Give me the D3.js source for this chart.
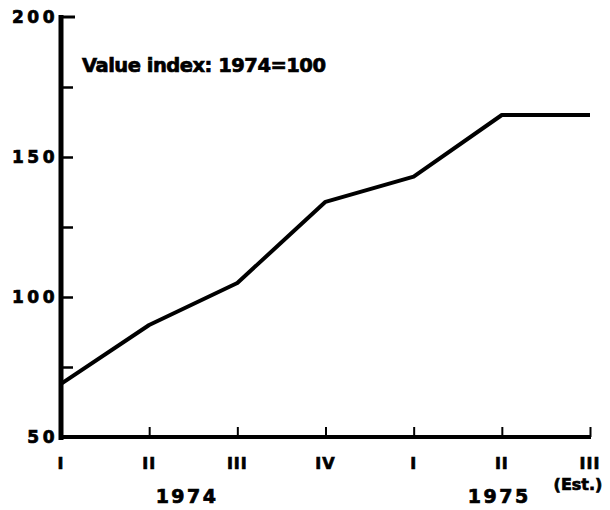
<!DOCTYPE html>
<html><head><meta charset="utf-8">
<script src="https://cdn.jsdelivr.net/npm/d3@7"></script>
<style>
html,body{margin:0;padding:0;background:#fff;}
svg text{font-family:"DejaVu Sans",sans-serif;font-weight:bold;fill:#000;stroke:#000;stroke-width:0.7px;}
</style></head>
<body><svg id="c" width="610" height="510"></svg>
<script>
const quarters = ["I","II","III","IV","I","II","III"];
const values = [69, 90, 105, 134, 143, 165, 165];
const yTicks = [50, 100, 150, 200];
const yMinorTicks = [75, 125, 175];
const years = [{label:"1974", at:1.43}, {label:"1975", at:4.97}];
const title = "Value index: 1974=100";
const estLabel = "(Est.)";

const svg = d3.select("#c");
const idx = d3.range(quarters.length);
const x = d3.scaleLinear().domain([0, quarters.length-1]).range([61, 590]);
const y = d3.scaleLinear().domain([50, 200]).range([437, 17]);

// Y axis: line and inward ticks
const yAxis = d3.axisRight(y).tickValues(yTicks.concat(yMinorTicks).filter(v=>v>50 && v<200))
  .tickSize(12).tickFormat("");
const gy = svg.append("g").attr("transform", `translate(${x(0)},0)`).call(yAxis);
gy.select(".domain").remove();
gy.selectAll(".tick line").attr("stroke","#000").attr("stroke-width",2.5);
svg.append("line").attr("x1", x(0)).attr("x2", x(0)).attr("y1", y(200)-2).attr("y2", y(50)+3)
  .attr("stroke","#000").attr("stroke-width",5);
svg.append("line").attr("x1", x(0)-2).attr("x2", x(0)+14).attr("y1", y(200)).attr("y2", y(200))
  .attr("stroke","#000").attr("stroke-width",3);

// Y tick labels
svg.append("g").selectAll("text").data(yTicks).join("text")
  .attr("x", 58).attr("y", d=>y(d)).attr("dy","0.36em").attr("text-anchor","end")
  .attr("font-size",17).attr("letter-spacing",3.5).text(d=>d);

// X axis: line and upward ticks
const xAxis = d3.axisTop(x).tickValues(idx.slice(1)).tickSize(10).tickFormat("");
const gx = svg.append("g").attr("transform", `translate(0,${y(50)})`).call(xAxis);
gx.select(".domain").remove();
gx.selectAll(".tick line").attr("stroke","#000").attr("stroke-width",2);
svg.append("line").attr("x1", x(0)-2).attr("x2", x(quarters.length-1)+1).attr("y1", y(50)).attr("y2", y(50))
  .attr("stroke","#000").attr("stroke-width",4);

// X tick labels
svg.append("g").selectAll("text").data(idx).join("text")
  .attr("x", d=>x(d)).attr("y", 463).attr("dy","0.36em").attr("text-anchor","middle")
  .attr("font-size",16).attr("letter-spacing",1).text(d=>quarters[d]);

// Year labels
svg.append("g").selectAll("text").data(years).join("text")
  .attr("x", d=>x(d.at)).attr("y", 503).attr("text-anchor","middle")
  .attr("font-size",19).attr("letter-spacing",2.5).text(d=>d.label);
svg.append("text").attr("x", 578).attr("y", 490).attr("text-anchor","middle")
  .attr("font-size",16).text(estLabel);

// Title
svg.append("text").attr("x", 82).attr("y", 72).attr("font-size",19.5)
  .attr("letter-spacing",-0.5).text(title);

// Line
const line = d3.line().x((d,i)=>x(i)).y(d=>y(d));
svg.append("path").datum(values).attr("d", line).attr("fill","none")
  .attr("stroke","#000").attr("stroke-width",4).attr("stroke-linejoin","round");
</script></body></html>
